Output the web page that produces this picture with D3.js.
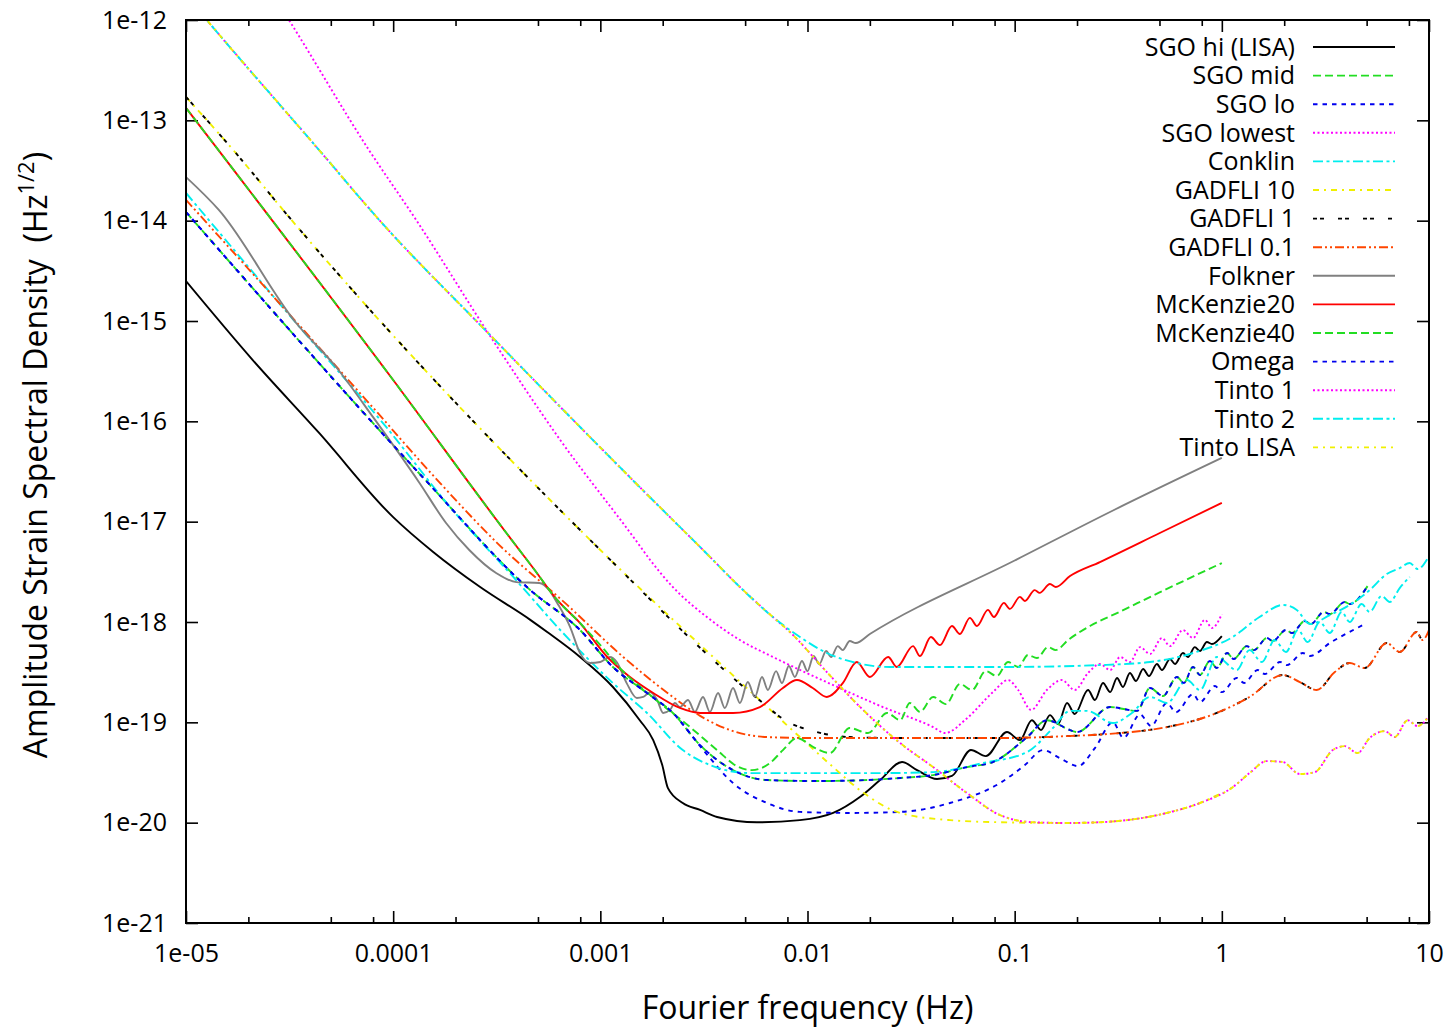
<!DOCTYPE html>
<html>
<head>
<meta charset="utf-8">
<script src="https://cdn.jsdelivr.net/npm/d3@7"></script>
<style>
  body { margin: 0; background: #fff; }
  .chart { width: 1451px; height: 1028px; }
  text { font-family: "Open Sans", sans-serif; fill: #000; }
</style>
</head>
<body>
<div class="chart"></div>
<script>

// tick values and labels
const freqTicks = [1e-5, 1e-4, 1e-3, 1e-2, 1e-1, 1, 10];
const freqLabels = ["1e-05", "0.0001", "0.001", "0.01", "0.1", "1", "10"];
const minorMantissas = [2, 5, 8];
const asdTicks = [1e-21, 1e-20, 1e-19, 1e-18, 1e-17, 1e-16, 1e-15, 1e-14, 1e-13, 1e-12];
const asdLabels = ["1e-21", "1e-20", "1e-19", "1e-18", "1e-17", "1e-16", "1e-15", "1e-14", "1e-13", "1e-12"];

// [frequency Hz, amplitude strain spectral density Hz^-1/2]
const sgoHi = [[1e-5,2.5e-15],[2.1e-5,4.08e-16],[4.39e-5,7.66e-17],[1e-4,1.11e-17],[1.56e-4,4.99e-18],[2.63e-4,2.23e-18],[4.59e-4,1.05e-18],[5.54e-4,7.94e-19],[7.98e-4,4.48e-19],[1.15e-3,2.25e-19],[1.55e-3,1.05e-19],[1.80e-3,6.65e-20],[1.99e-3,3.75e-20],[2.12e-3,2.21e-20],[2.50e-3,1.57e-20],[3.03e-3,1.34e-20],[3.66e-3,1.14e-20],[5.70e-3,1.01e-20],[9.19e-3,1.06e-20],[1.33e-2,1.25e-20],[1.79e-2,1.80e-20],[2.24e-2,2.66e-20],[2.86e-2,4.02e-20],[3.38e-2,3.34e-20],[4.22e-2,2.72e-20],[4.98e-2,2.92e-20],[6.15e-2,5.30e-20],[7.26e-2,4.61e-20],[9.18e-2,8.0e-20],[0.106,6.65e-20],[0.121,1.05e-19],[0.134,8.38e-20],[0.148,1.18e-19],[0.162,9.6e-20],[0.179,1.56e-19],[0.195,1.21e-19],[0.226,2.10e-19],[0.244,1.67e-19],[0.267,2.47e-19],[0.289,2.0e-19],[0.312,2.77e-19],[0.333,2.25e-19],[0.360,3.10e-19],[0.385,2.58e-19],[0.417,3.40e-19],[0.445,2.89e-19],[0.486,3.81e-19],[0.514,3.32e-19],[0.562,4.28e-19],[0.594,3.81e-19],[0.649,4.91e-19],[0.686,4.48e-19],[0.741,5.62e-19],[0.784,5.14e-19],[0.847,6.31e-19],[0.896,6.03e-19],[1,7.24e-19]];

const sgoMid = [[1e-5,1.22e-14],[1.40e-4,2.73e-17],[4.59e-4,2.08e-18],[7.98e-4,8.32e-19],[1.15e-3,3.56e-19],[1.68e-3,1.96e-19],[2.24e-3,1.24e-19],[3.03e-3,5.93e-20],[4.37e-3,3.34e-20],[6.37e-3,2.66e-20],[1.11e-2,2.60e-20],[1.94e-2,2.66e-20],[2.80e-2,2.79e-20],[4.04e-2,2.98e-20],[5.89e-2,3.58e-20],[7.85e-2,4.02e-20],[0.115,7.13e-20],[0.143,1.05e-19],[0.185,8.38e-20],[0.200,8.0e-20],[0.289,1.42e-19],[0.390,1.30e-19],[0.450,2.20e-19],[0.520,1.83e-19],[0.607,2.83e-19],[0.656,2.47e-19],[0.726,3.56e-19],[0.784,2.96e-19],[0.876,4.08e-19],[0.946,3.48e-19],[1.06,4.91e-19],[1.14,4.28e-19],[1.32,5.75e-19],[1.43,5.25e-19],[1.65,6.92e-19],[1.76,6.46e-19],[2.04,8.32e-19],[2.18,7.76e-19],[2.51,1.02e-18],[2.69,9.55e-19],[3.10,1.26e-18],[3.32,1.20e-18],[3.92,1.58e-18],[4.14,1.51e-18],[5.06,2.29e-18]];

const sgoLo = [[1e-5,1.22e-14],[1.40e-4,2.73e-17],[4.59e-4,2.08e-18],[7.98e-4,8.32e-19],[1.15e-3,3.56e-19],[1.68e-3,1.96e-19],[2.24e-3,1.24e-19],[3.2e-3,5.05e-20],[4.37e-3,2.48e-20],[6.37e-3,1.57e-20],[9.19e-3,1.28e-20],[1.60e-2,1.25e-20],[2.80e-2,1.28e-20],[4.87e-2,1.57e-20],[8.49e-2,2.48e-20],[0.112,3.75e-20],[0.137,5.29e-20],[0.165,4.41e-20],[0.202,3.66e-20],[0.244,5.54e-20],[0.298,1.0e-19],[0.335,7.0e-20],[0.403,1.2e-19],[0.455,9.2e-20],[0.543,1.56e-19],[0.600,1.26e-19],[0.726,1.91e-19],[0.784,1.59e-19],[0.926,2.30e-19],[1,2.0e-19],[1.18,2.77e-19],[1.28,2.47e-19],[1.49,3.32e-19],[1.61,3.03e-19],[1.91,3.99e-19],[2.06,3.72e-19],[2.46,4.91e-19],[2.66,4.58e-19],[3.32,6.17e-19],[4.79,9.31e-19]];

const sgoLowest = [[2.54e-5,1.99e-12],[3.14e-5,1e-12],[7.64e-5,5.06e-14],[1.29e-4,1.02e-14],[2.88e-4,7.55e-16],[6.4e-4,6.52e-17],[1.48e-3,6.56e-18],[1.74e-3,4.15e-18],[2.24e-3,2.23e-18],[3.27e-3,1.12e-18],[4.72e-3,6.61e-19],[6.81e-3,4.48e-19],[1.33e-2,2.35e-19],[2.31e-2,1.42e-19],[4.04e-2,8.97e-20],[4.61e-2,7.82e-20],[5.89e-2,1.10e-19],[7.85e-2,2.0e-19],[9.29e-2,2.64e-19],[0.104,2.10e-19],[0.120,1.33e-19],[0.143,2.10e-19],[0.169,2.64e-19],[0.195,2.10e-19],[0.226,3.10e-19],[0.258,3.81e-19],[0.289,3.32e-19],[0.323,4.48e-19],[0.360,3.99e-19],[0.403,5.62e-19],[0.450,4.80e-19],[0.514,6.92e-19],[0.562,5.75e-19],[0.649,8.32e-19],[0.726,6.92e-19],[0.828,1.05e-18],[0.896,8.71e-19],[1,1.20e-18]];

const conklin = [[1e-5,1.89e-14],[3.4e-5,9.55e-16],[9.25e-5,8.79e-17],[1.88e-4,1.40e-17],[3.80e-4,2.81e-18],[6.61e-4,7.76e-19],[1.15e-3,2.46e-19],[1.68e-3,1.24e-19],[2.50e-3,5.29e-20],[3.38e-3,3.75e-20],[5.27e-3,3.12e-20],[1.11e-2,3.12e-20],[2.31e-2,3.12e-20],[4.04e-2,3.19e-20],[7.03e-2,3.93e-20],[0.115,5.06e-20],[0.153,8.77e-20],[0.185,1.30e-19],[0.223,1.30e-19],[0.298,9.84e-20],[0.368,1.24e-19],[0.450,1.79e-19],[0.543,1.56e-19],[0.679,2.64e-19],[0.784,2.10e-19],[0.946,4.48e-19],[1.18,3.32e-19],[1.36,5.25e-19],[1.56,3.99e-19],[1.80,6.61e-19],[2.04,5.02e-19],[2.33,8.32e-19],[2.60,6.31e-19],[2.97,1.0e-18],[3.32,7.76e-19],[3.79,1.26e-18],[4.14,1.0e-18],[4.73,1.51e-18],[5.17,1.26e-18],[5.91,1.82e-18],[6.46,1.58e-18],[7.22,2.18e-18],[8.07,2.81e-18]];

const gadfli10 = [[1e-5,1.71e-13],[1.69e-5,5.06e-14],[3.14e-5,1.09e-14],[1e-3,5.22e-18],[6.09e-3,1.56e-19],[9.19e-3,7.13e-20],[1.33e-2,3.58e-20],[1.79e-2,2.11e-20],[2.80e-2,1.25e-20],[4.87e-2,1.06e-20],[8.49e-2,1.01e-20],[0.179,9.93e-21],[0.258,1.01e-20],[0.543,1.25e-20],[0.784,1.57e-20],[1,1.98e-20]];

const gadfli1 = [[1e-5,1.71e-13],[1.69e-5,5.06e-14],[3.14e-5,1.09e-14],[1e-3,5.22e-18],[6.09e-3,1.56e-19],[7.78e-3,1.05e-19],[1.11e-2,8.0e-20],[1.60e-2,7.13e-20],[2.80e-2,6.97e-20],[8.49e-2,6.97e-20],[0.179,7.29e-20],[0.323,7.82e-20],[0.543,8.97e-20],[0.946,1.24e-19],[1.36,1.79e-19],[1.97,2.96e-19],[2.38,2.52e-19],[2.87,2.10e-19],[3.51,3.17e-19],[4.14,3.90e-19],[4.89,3.48e-19],[6.25,6.17e-19],[7.22,5.02e-19],[8.72,7.94e-19],[9.31,6.61e-19],[10,8.32e-19]];

const gadfli01 = [[1e-5,1.61e-14],[7.64e-5,1.52e-16],[1.63e-4,2.61e-17],[3.18e-4,6.12e-18],[6.92e-4,1.48e-18],[1.29e-3,4.48e-19],[2.24e-3,1.79e-19],[3.03e-3,1.16e-19],[4.37e-3,8.18e-20],[6.37e-3,7.13e-20],[1.11e-2,6.97e-20],[8.49e-2,6.97e-20],[0.179,7.29e-20],[0.323,7.82e-20],[0.543,8.97e-20],[0.946,1.24e-19],[1.36,1.79e-19],[1.97,2.96e-19],[2.38,2.52e-19],[2.87,2.10e-19],[3.51,3.17e-19],[4.14,3.90e-19],[4.89,3.48e-19],[6.25,6.17e-19],[7.22,5.02e-19],[8.72,7.94e-19],[9.31,6.61e-19],[10,8.32e-19]];

const folkner = [[1e-5,2.72e-14],[1.44e-5,1.28e-14],[3.4e-5,9.55e-16],[5.3e-5,3.48e-16],[8.0e-5,1.10e-16],[1.34e-4,2.43e-17],[1.80e-4,9.7e-18],[2.33e-4,5.22e-18],[3.14e-4,3.08e-18],[3.93e-4,2.5e-18],[5.07e-4,2.45e-18],[5.66e-4,2.08e-18],[6.19e-4,1.55e-18],[7.15e-4,8.91e-19],[7.98e-4,4.9e-19],[8.92e-4,3.90e-19],[1e-3,3.99e-19],[1.11e-3,4.48e-19],[1.20e-3,3.99e-19],[1.34e-3,2.46e-19],[1.50e-3,1.75e-19],[1.61e-3,1.79e-19],[1.74e-3,2.0e-19],[1.88e-3,1.67e-19],[2.01e-3,1.24e-19],[2.17e-3,1.33e-19],[2.29e-3,1.56e-19],[2.42e-3,1.42e-19],[2.65e-3,1.67e-19],[2.86e-3,1.27e-19],[3.13e-3,1.79e-19],[3.38e-3,1.27e-19],[3.70e-3,1.96e-19],[3.99e-3,1.39e-19],[4.37e-3,2.20e-19],[4.72e-3,1.56e-19],[5.15e-3,2.52e-19],[5.57e-3,1.79e-19],[6.03e-3,2.83e-19],[6.44e-3,2.1e-19],[7.05e-3,3.24e-19],[7.53e-3,2.46e-19],[8.13e-3,3.64e-19],[8.69e-3,2.83e-19],[9.40e-3,4.08e-19],[1.0e-2,3.24e-19],[1.07e-2,4.58e-19],[1.14e-2,3.81e-19],[1.23e-2,5.14e-19],[1.30e-2,4.48e-19],[1.40e-2,5.75e-19],[1.48e-2,5.25e-19],[1.60e-2,6.46e-19],[1.71e-2,6.17e-19],[2.0e-2,7.59e-19],[0.1,4.1e-18],[0.3,1.3e-17],[1,4.32e-17]];

const mckenzie20 = [[1e-5,1.33e-13],[1e-4,2.58e-16],[3.52e-4,7.71e-18],[4.74e-4,3.45e-18],[6.19e-4,1.66e-18],[7.98e-4,9.77e-19],[1.08e-3,4.48e-19],[1.39e-3,2.83e-19],[1.80e-3,1.96e-19],[2.42e-3,1.39e-19],[3.03e-3,1.24e-19],[4.37e-3,1.24e-19],[5.89e-3,1.42e-19],[7.61e-3,2.20e-19],[8.89e-3,2.64e-19],[1.06e-2,2.20e-19],[1.24e-2,1.79e-19],[1.48e-2,2.46e-19],[1.73e-2,3.99e-19],[2.0e-2,2.83e-19],[2.45e-2,4.48e-19],[2.70e-2,3.56e-19],[3.23e-2,5.75e-19],[3.49e-2,4.58e-19],[3.94e-2,7.08e-19],[4.36e-2,5.89e-19],[4.98e-2,9.12e-19],[5.44e-2,7.59e-19],[6.08e-2,1.10e-18],[6.58e-2,9.12e-19],[7.43e-2,1.32e-18],[7.94e-2,1.12e-18],[8.87e-2,1.55e-18],[9.49e-2,1.35e-18],[0.106,1.78e-18],[0.112,1.62e-18],[0.125,2.08e-18],[0.132,1.95e-18],[0.148,2.39e-18],[0.158,2.23e-18],[0.185,2.87e-18],[0.258,3.96e-18],[0.502,7.71e-18],[1,1.54e-17]];

const mckenzie40 = [[1e-5,1.33e-13],[1e-4,2.58e-16],[3.52e-4,7.71e-18],[4.74e-4,3.45e-18],[6.19e-4,1.66e-18],[7.98e-4,9.77e-19],[1e-3,5.89e-19],[1.24e-3,3.48e-19],[1.74e-3,1.87e-19],[2.71e-3,8.97e-20],[3.66e-3,5.29e-20],[4.56e-3,3.66e-20],[5.39e-3,3.34e-20],[6.59e-3,3.93e-20],[7.61e-3,5.29e-20],[8.89e-3,6.97e-20],[1.09e-2,5.54e-20],[1.28e-2,4.94e-20],[1.60e-2,8.77e-20],[1.96e-2,7.82e-20],[2.42e-2,1.24e-19],[2.80e-2,1.05e-19],[3.12e-2,1.56e-19],[3.49e-2,1.27e-19],[4.04e-2,1.79e-19],[4.66e-2,1.52e-19],[5.44e-2,2.41e-19],[6.22e-2,2.10e-19],[7.26e-2,3.24e-19],[8.20e-2,2.89e-19],[9.29e-2,3.99e-19],[0.104,3.56e-19],[0.116,4.69e-19],[0.128,4.37e-19],[0.145,5.62e-19],[0.158,5.25e-19],[0.181,6.61e-19],[0.231,9.12e-19],[0.32,1.26e-18],[0.5,1.97e-18],[1,3.87e-18]];

const omega = [[1e-5,1.22e-14],[1.40e-4,2.73e-17],[4.59e-4,2.08e-18],[7.98e-4,8.32e-19],[1.15e-3,3.56e-19],[1.68e-3,1.96e-19],[2.24e-3,1.24e-19],[3.03e-3,5.93e-20],[4.37e-3,3.34e-20],[6.37e-3,2.66e-20],[1.11e-2,2.60e-20],[1.94e-2,2.66e-20],[2.80e-2,2.79e-20],[4.04e-2,2.98e-20],[5.89e-2,3.58e-20],[7.85e-2,4.02e-20],[0.115,7.13e-20],[0.143,1.05e-19],[0.185,8.38e-20],[0.200,8.0e-20],[0.289,1.42e-19],[0.390,1.30e-19],[0.450,2.20e-19],[0.520,1.83e-19],[0.607,2.83e-19],[0.656,2.47e-19],[0.726,3.56e-19],[0.784,2.96e-19],[0.876,4.08e-19],[0.946,3.48e-19],[1.06,4.91e-19],[1.14,4.28e-19],[1.32,5.75e-19],[1.43,5.25e-19],[1.65,6.92e-19],[1.76,6.46e-19],[2.04,8.32e-19],[2.18,7.76e-19],[2.51,1.02e-18],[2.69,9.55e-19],[3.10,1.26e-18],[3.32,1.20e-18],[3.92,1.58e-18],[4.14,1.51e-18],[5.06,2.29e-18]];

const tinto1 = [[1e-5,1.77e-12],[1.26e-5,1.0e-12],[4.39e-5,5.06e-14],[8.55e-5,1.02e-14],[2.88e-4,7.55e-16],[1.48e-3,2.43e-17],[3.24e-3,4.87e-18],[4.72e-3,2.23e-18],[6.81e-3,1.12e-18],[8.22e-3,7.96e-19],[1.24e-2,3.17e-19],[1.66e-2,1.67e-19],[2.80e-2,6.21e-20],[4.04e-2,3.58e-20],[5.89e-2,1.97e-20],[8.49e-2,1.19e-20],[0.122,1.01e-20],[0.179,9.93e-21],[0.258,1.01e-20],[0.543,1.25e-20],[0.784,1.57e-20],[1.13,2.26e-20],[1.36,3.12e-20],[1.65,4.11e-20],[1.97,4.02e-20],[2.38,3.05e-20],[2.81,3.19e-20],[3.43,5.29e-20],[3.92,5.79e-20],[4.52,4.94e-20],[5.17,6.97e-20],[6.11,8.18e-20],[6.83,7.13e-20],[7.89,1.05e-19],[8.81,9.18e-20],[10,1.16e-19]];

const tinto2 = [[1e-5,1.77e-12],[1.26e-5,1.0e-12],[4.39e-5,5.06e-14],[8.55e-5,1.02e-14],[2.88e-4,7.55e-16],[1.48e-3,2.43e-17],[3.24e-3,4.87e-18],[4.72e-3,2.23e-18],[6.81e-3,1.12e-18],[9.19e-3,7.10e-19],[1.24e-2,4.91e-19],[1.73e-2,3.90e-19],[2.50e-2,3.56e-19],[8.49e-2,3.56e-19],[0.258,3.72e-19],[0.450,3.99e-19],[0.726,4.91e-19],[1.13,7.10e-19],[1.52,1.12e-18],[1.97,1.48e-18],[2.30,1.32e-18],[2.66,9.55e-19],[3.32,1.17e-18],[4.14,1.48e-18],[5.17,2.08e-18],[6.25,3.01e-18],[7.22,3.45e-18],[8.07,3.87e-18],[8.81,3.37e-18],[10,4.55e-18]];

const tintoLisa = [[1e-5,1.77e-12],[1.26e-5,1.0e-12],[4.39e-5,5.06e-14],[8.55e-5,1.02e-14],[2.88e-4,7.55e-16],[1.48e-3,2.43e-17],[3.24e-3,4.87e-18],[4.72e-3,2.23e-18],[6.81e-3,1.12e-18],[8.22e-3,7.96e-19],[1.24e-2,3.17e-19],[1.66e-2,1.67e-19],[2.80e-2,6.21e-20],[4.04e-2,3.58e-20],[5.89e-2,1.97e-20],[8.49e-2,1.19e-20],[0.122,1.01e-20],[0.179,9.93e-21],[0.258,1.01e-20],[0.543,1.25e-20],[0.784,1.57e-20],[1.13,2.26e-20],[1.36,3.12e-20],[1.65,4.11e-20],[1.97,4.02e-20],[2.38,3.05e-20],[2.81,3.19e-20],[3.43,5.29e-20],[3.92,5.79e-20],[4.52,4.94e-20],[5.17,6.97e-20],[6.11,8.18e-20],[6.83,7.13e-20],[7.89,1.05e-19],[8.81,9.18e-20],[10,1.16e-19]];

const seriesNames = ["SGO hi (LISA)", "SGO mid", "SGO lo", "SGO lowest", "Conklin", "GADFLI 10", "GADFLI 1",
    "GADFLI 0.1", "Folkner", "McKenzie20", "McKenzie40", "Omega", "Tinto 1", "Tinto 2", "Tinto LISA"];
const seriesData = [sgoHi, sgoMid, sgoLo, sgoLowest, conklin, gadfli10, gadfli1,
    gadfli01, folkner, mckenzie20, mckenzie40, omega, tinto1, tinto2, tintoLisa];

// line styles, same order as the names
const seriesStyles = [
    { color: "#000000", dash: null },
    { color: "#22dd22", dash: "8,4" },
    { color: "#0000ee", dash: "4.5,5" },
    { color: "#ff00ff", dash: "2,2.5" },
    { color: "#00eeee", dash: "10,3.5,3,3.5" },
    { color: "#f0f000", dash: "6,5,2,5" },
    { color: "#000000", dash: "4,3,4,14" },
    { color: "#ff4500", dash: "9,3,2,3,2,3" },
    { color: "#808080", dash: null },
    { color: "#ff0000", dash: null },
    { color: "#22dd22", dash: "8,4" },
    { color: "#0000ee", dash: "4.5,5" },
    { color: "#ff00ff", dash: "2,2.5" },
    { color: "#00eeee", dash: "10,3.5,3,3.5" },
    { color: "#f0f000", dash: "5,5,2,5" }
];

function init() {

    let margin = {
        top: 20,
        right: 22,
        bottom: 105,
        left: 186
    };

    let targetWidth = 1451;
    let targetHeight = 1028;

    let width = targetWidth - margin.left - margin.right;
    let height = targetHeight - margin.top - margin.bottom;

    let xScale = d3.scaleLog()
        .range([0, width])
        .domain([1e-5, 10]);

    let yScale = d3.scaleLog()
        .range([height, 0])
        .domain([1e-21, 1e-12]);

    let svg = d3.select(".chart").append("svg")
        .attr("width", targetWidth)
        .attr("height", targetHeight)
        .style("background", "#fff");

    svg.append("defs").append("clipPath")
        .attr("id", "clip")
        .append("rect")
        .attr("width", width)
        .attr("height", height);

    let plot = svg.append("g")
        .attr("class", "plot")
        .attr("transform", `translate(${margin.left},${margin.top})`);

    // minor ticks at 2, 5 and 8 of each decade
    let minorTicks = [];
    freqTicks.slice(0, -1).forEach(d => minorMantissas.forEach(m => minorTicks.push(d * m)));

    let labelX = d => freqLabels[freqTicks.indexOf(d)];
    let labelY = d => asdLabels[asdTicks.indexOf(d)];

    function styleAxis(g) {
        g.select(".domain").remove();
        g.selectAll(".tick line").attr("stroke", "#000").attr("stroke-width", 1.6);
        g.attr("font-family", "'Open Sans', sans-serif").attr("font-size", 25);
        g.selectAll(".tick text").attr("fill", "#000");
    }

    plot.append("g")
        .attr("transform", `translate(0,${height})`)
        .call(d3.axisBottom(xScale).tickValues(freqTicks).tickFormat(labelX).tickSize(-12).tickPadding(21))
        .call(styleAxis);

    plot.append("g")
        .attr("transform", `translate(0,${height})`)
        .call(d3.axisBottom(xScale).tickValues(minorTicks).tickFormat("").tickSize(-6))
        .call(styleAxis);

    plot.append("g")
        .call(d3.axisTop(xScale).tickValues(freqTicks).tickFormat("").tickSize(-12))
        .call(styleAxis);

    plot.append("g")
        .call(d3.axisTop(xScale).tickValues(minorTicks).tickFormat("").tickSize(-6))
        .call(styleAxis);

    plot.append("g")
        .call(d3.axisLeft(yScale).tickValues(asdTicks).tickFormat(labelY).tickSize(-12).tickPadding(19))
        .call(styleAxis);

    plot.append("g")
        .attr("transform", `translate(${width},0)`)
        .call(d3.axisRight(yScale).tickValues(asdTicks).tickFormat("").tickSize(-12))
        .call(styleAxis);

    // the curves
    let line = d3.line()
        .x(d => xScale(d[0]))
        .y(d => yScale(d[1]))
        .curve(d3.curveMonotoneX);

    let curves = plot.append("g").attr("clip-path", "url(#clip)");

    seriesData.forEach((data, i) => {
        curves.append("path")
            .datum(data)
            .attr("d", line)
            .attr("fill", "none")
            .attr("stroke", seriesStyles[i].color)
            .attr("stroke-width", 1.9)
            .attr("stroke-dasharray", seriesStyles[i].dash);
    });

    // frame
    plot.append("rect")
        .attr("width", width)
        .attr("height", height)
        .attr("fill", "none")
        .attr("stroke", "#000")
        .attr("stroke-width", 2);

    // legend, top right inside the plot, no background
    let legend = svg.append("g")
        .attr("transform", "translate(1295,47)");

    seriesNames.forEach((name, i) => {
        let row = legend.append("g").attr("transform", `translate(0,${i * 28.6})`);
        row.append("text")
            .attr("text-anchor", "end")
            .attr("dy", "0.35em")
            .attr("font-size", 25)
            .text(name);
        row.append("line")
            .attr("x1", 18).attr("x2", 100)
            .attr("stroke", seriesStyles[i].color)
            .attr("stroke-width", 1.9)
            .attr("stroke-dasharray", seriesStyles[i].dash);
    });

    // axis titles
    svg.append("text")
        .attr("x", margin.left + width / 2)
        .attr("y", 1019)
        .attr("text-anchor", "middle")
        .attr("font-size", 32)
        .text("Fourier frequency (Hz)");

    let yTitle = svg.append("text")
        .attr("transform", "translate(47,455) rotate(-90)")
        .attr("text-anchor", "middle")
        .attr("font-size", 32);
    yTitle.append("tspan").text("Amplitude Strain Spectral Density \u00a0(Hz");
    yTitle.append("tspan").attr("dy", -13).attr("font-size", 22).text("1/2");
    yTitle.append("tspan").attr("dy", 13).text(")");
}

init();
</script>
</body>
</html>
